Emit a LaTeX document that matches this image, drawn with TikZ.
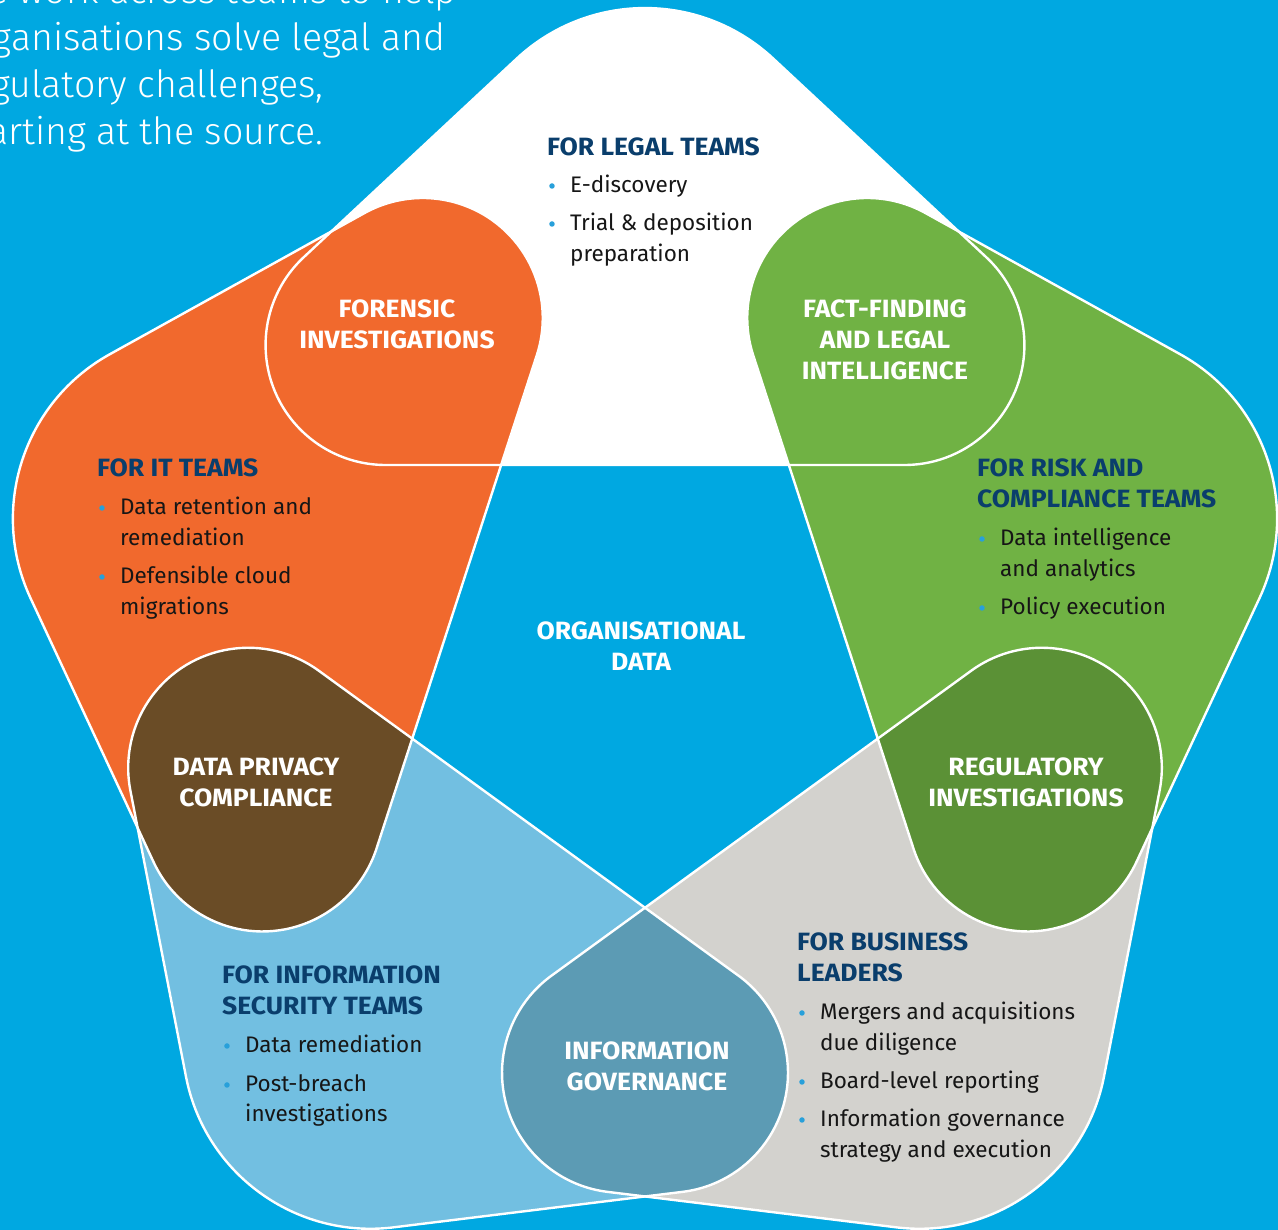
\documentclass[tikz,border=0pt]{standalone}
\usepackage{fontspec}
\setmainfont{Fira Sans}
\newfontfamily\lightfont{Fira Sans Light}
\newfontfamily\headfont{Fira Sans Bold}[FakeStretch=1.06]
\definecolor{bgblue}{RGB}{0,168,225}
\definecolor{orangeC}{RGB}{241,105,45}
\definecolor{greenC}{RGB}{112,178,68}
\definecolor{dkgreen}{RGB}{91,145,54}
\definecolor{grayC}{RGB}{211,210,206}
\definecolor{ltblue}{RGB}{114,191,225}
\definecolor{steelC}{RGB}{92,155,180}
\definecolor{brownC}{RGB}{106,76,38}
\definecolor{navy}{RGB}{10,62,108}
\definecolor{dotblue}{RGB}{40,160,218}
\definecolor{bodyblack}{RGB}{22,22,22}
\newcommand\petal[1]{\path[#1] (-259.42,198) -- (259.42,198)
  arc[start angle=-90,end angle=47,radius=120] -- (128.22,604.43)
  arc[start angle=47,end angle=133,radius=188] -- (-341.26,405.76)
  arc[start angle=133,end angle=270,radius=120] -- cycle;}
\begin{document}
\begin{tikzpicture}[x=1pt,y=1pt,
  head/.style={font=\headfont\fontsize{25}{31}\selectfont, text=navy, inner sep=0pt, anchor=base west},
  body/.style={font=\fontsize{22.5}{31}\selectfont, text=bodyblack, inner sep=0pt, anchor=base west},
  lab/.style={font=\headfont\fontsize{25}{31}\selectfont, text=white, align=center, inner sep=0pt},
  dot/.style={circle, fill=dotblue, minimum size=5.5pt, inner sep=0pt},
  intro/.style={font=\lightfont\fontsize{37.5}{47}\selectfont, text=white, inner sep=0pt, anchor=base west}]
\useasboundingbox (-645,-567) rectangle (633,663);
\fill[bgblue] (-645,-567) rectangle (633,663);
\clip (-645,-567) rectangle (633,663);
% petals
\petal{fill=white}
\petal{fill=orangeC, rotate=72}
\petal{fill=ltblue, rotate=144}
\petal{fill=grayC, rotate=216}
\petal{fill=greenC, rotate=288}
% overlaps
\begin{scope}\petal{clip, rotate=72}\petal{fill=brownC, rotate=144}\end{scope}
\begin{scope}\petal{clip, rotate=144}\petal{fill=steelC, rotate=216}\end{scope}
\begin{scope}\petal{clip, rotate=216}\petal{fill=dkgreen, rotate=288}\end{scope}
% outlines
\foreach \a in {0,72,144,216,288} {\petal{draw=white, line width=2.4pt, line join=round, rotate=\a}}
% texts in image coordinates
\begin{scope}[shift={(-645,663)}, yscale=-1]
\node[intro] (i1) at (-42,4) {We work across teams to help};
\node[intro] (i2) at (-42,50.5) {organisations solve legal and};
\node[intro] (i3) at (-42,97.5) {regulatory challenges,};
\node[intro] (i4) at (-42,144.5) {starting at the source.};
% legal
\node[head] (hl) at (547,155.5) {FOR LEGAL TEAMS};
\node[dot] (dl1) at (552,186) {};
\node[body] (bl1) at (570,193) {E-discovery};
\node[dot] (dl2) at (552,224) {};
\node[body] (bl2) at (570,231) {Trial \& deposition};
\node[body] (bl3) at (570,262) {preparation};
% IT
\node[head] (hi) at (97,477) {FOR IT TEAMS};
\node[dot] (di1) at (102,508) {};
\node[body] (bi1) at (120,515) {Data retention and};
\node[body] (bi2) at (120,546) {remediation};
\node[dot] (di2) at (102,577) {};
\node[body] (bi3) at (120,584) {Defensible cloud};
\node[body] (bi4) at (120,615) {migrations};
% risk
\node[head] (hr1) at (977,477) {FOR RISK AND};
\node[head] (hr2) at (977,508) {COMPLIANCE TEAMS};
\node[dot] (dr1) at (982,539) {};
\node[body] (br1) at (1000,546) {Data intelligence};
\node[body] (br2) at (1000,577) {and analytics};
\node[dot] (dr2) at (982,608) {};
\node[body] (br3) at (1000,615) {Policy execution};
% infosec
\node[head] (hs1) at (222,984) {FOR INFORMATION};
\node[head] (hs2) at (222,1015) {SECURITY TEAMS};
\node[dot] (ds1) at (227,1046) {};
\node[body] (bs1) at (245,1053) {Data remediation};
\node[dot] (ds2) at (227,1085) {};
\node[body] (bs2) at (245,1092) {Post-breach};
\node[body] (bs3) at (245,1122) {investigations};
% business
\node[head] (hb1) at (797,951) {FOR BUSINESS};
\node[head] (hb2) at (797,982) {LEADERS};
\node[dot] (db1) at (802,1013) {};
\node[body] (bb1) at (820,1020) {Mergers and acquisitions};
\node[body] (bb2) at (820,1051) {due diligence};
\node[dot] (db2) at (802,1082) {};
\node[body] (bb3) at (820,1089) {Board-level reporting};
\node[dot] (db3) at (802,1120) {};
\node[body] (bb4) at (820,1127) {Information governance};
\node[body] (bb5) at (820,1158) {strategy and execution};
% white labels
\node[lab] (lf) at (397,324) {FORENSIC\\INVESTIGATIONS};
\node[lab] (lff) at (885,339.5) {FACT-FINDING\\AND LEGAL\\INTELLIGENCE};
\node[lab] (lo) at (641,646.5) {ORGANISATIONAL\\DATA};
\node[lab] (ld) at (256,782) {DATA PRIVACY\\COMPLIANCE};
\node[lab] (lr) at (1026,782) {REGULATORY\\INVESTIGATIONS};
\node[lab] (lg) at (647,1066) {INFORMATION\\GOVERNANCE};
\end{scope}
\end{tikzpicture}
\end{document}
